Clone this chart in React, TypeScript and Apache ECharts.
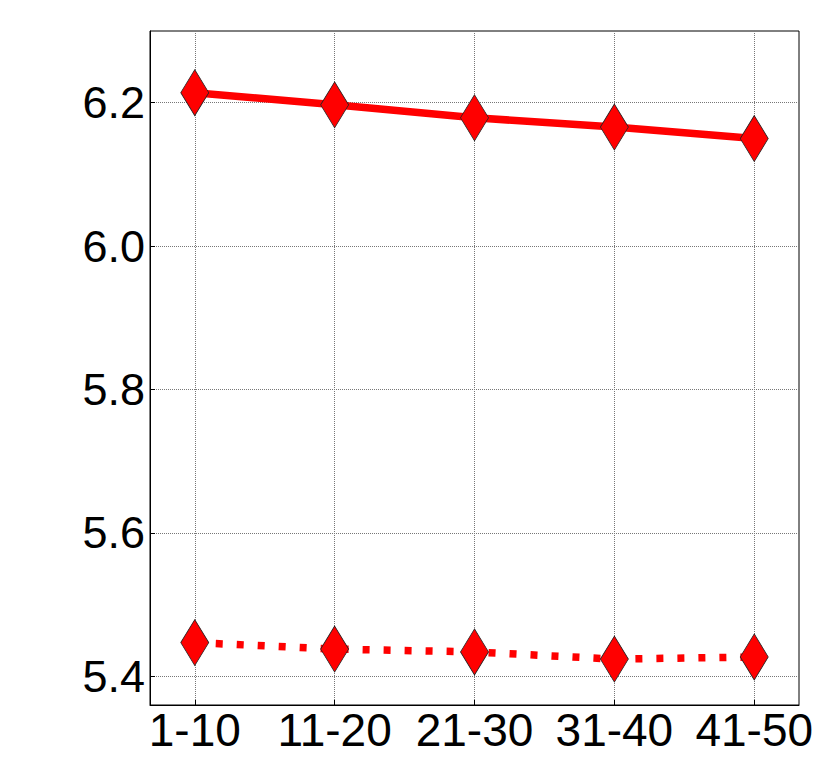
import React, { useEffect, useRef } from "react";
import * as echarts from "echarts";

const categories = ["1-10", "11-20", "21-30", "31-40", "41-50"];
const solidValues = [6.214, 6.197, 6.179, 6.166, 6.15];
const dottedValues = [5.447, 5.438, 5.434, 5.424, 5.427];
const yTicks = [5.4, 5.6, 5.8, 6.0, 6.2];

export default function App() {
  const ref = useRef<HTMLDivElement>(null);
  useEffect(() => {
    if (!ref.current) return;
    const chart = echarts.init(ref.current, null, { renderer: "svg" });
    const idx = categories.map((_, i) => i);
    const font = "Liberation Sans, Arial, Helvetica, sans-serif";
    const gridLine = { show: true, lineStyle: { type: "dotted" as const, color: "#777", width: 1 } };
    chart.setOption({
      animation: false,
      backgroundColor: "#fff",
      grid: {
        left: 150,
        top: 31,
        right: 31,
        bottom: 62,
        show: true,
        borderColor: "#000",
        borderWidth: 1,
        backgroundColor: "transparent",
      },
      xAxis: {
        type: "value",
        min: -0.32,
        max: 4.32,
        axisLine: { show: true, onZero: false, lineStyle: { color: "#000", width: 1 } },
        axisTick: { show: true, inside: true, length: 5, lineStyle: { color: "#000" }, customValues: idx },
        axisLabel: {
          customValues: idx,
          formatter: (v: number) => categories[Math.round(v)] ?? "",
          fontSize: 46,
          color: "#000",
          fontFamily: font,
          margin: 2,
        },
        splitLine: gridLine,
      },
      yAxis: {
        type: "value",
        min: 5.36,
        max: 6.3,
        axisLine: { show: true, onZero: false, lineStyle: { color: "#000", width: 1 } },
        axisTick: { show: true, inside: true, length: 5, lineStyle: { color: "#000" }, customValues: yTicks },
        axisLabel: {
          customValues: yTicks,
          formatter: (v: number) => v.toFixed(1),
          fontSize: 45,
          color: "#000",
          fontFamily: font,
          margin: 5,
        },
        splitLine: gridLine,
      },
      series: [
        {
          type: "line",
          data: solidValues.map((v, i) => [i, v]),
          symbol: "diamond",
          symbolSize: [28, 46],
          lineStyle: { color: "#ff0000", width: 7.5 },
          itemStyle: { color: "#ff0000", borderColor: "#222", borderWidth: 0.8 },
          z: 3,
        },
        {
          type: "line",
          data: dottedValues.map((v, i) => [i, v]),
          symbol: "diamond",
          symbolSize: [28, 46],
          lineStyle: { color: "#ff0000", width: 7.5, type: [7, 14] },
          itemStyle: { color: "#ff0000", borderColor: "#222", borderWidth: 0.8 },
          z: 3,
        },
      ],
    });
    return () => chart.dispose();
  }, []);
  return <div ref={ref} style={{ width: 830, height: 767, position: "absolute", left: 0, top: 0 }} />;
}
